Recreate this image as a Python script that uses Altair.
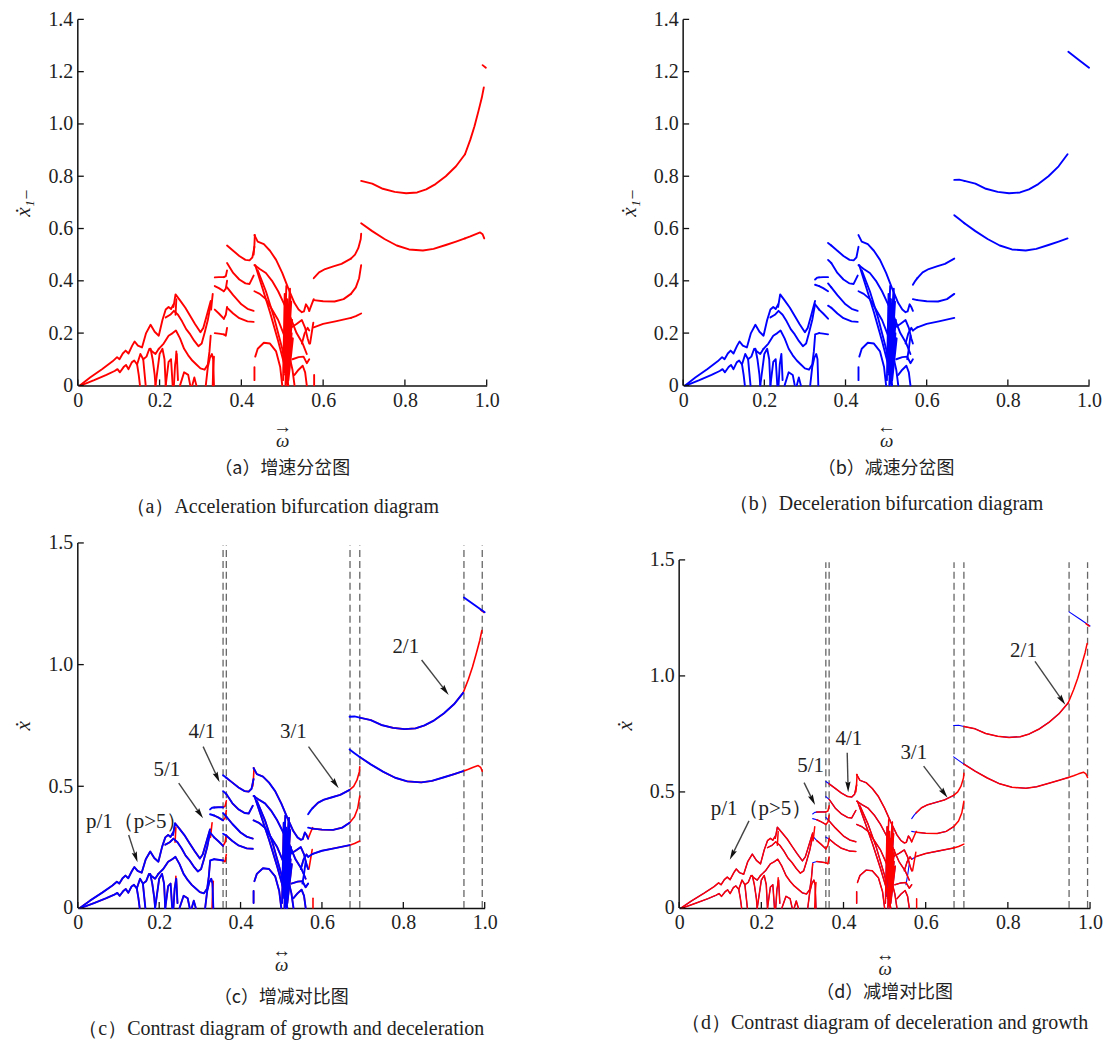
import math
import altair as alt
import pandas as pd

SERIF = "Liberation Serif, Times New Roman, DejaVu Serif, serif"
CJK = "Noto Sans CJK SC"
RED = "#ff0000"
BLUE = "#0000ff"

# ---------------- branches common to both sweeps (omega, xdot) ----------------
env1_w = [0.005, 0.03, 0.06, 0.085, 0.096, 0.102, 0.11, 0.117, 0.124, 0.133, 0.139, 0.147, 0.157, 0.167, 0.178, 0.188, 0.198, 0.207, 0.215, 0.222, 0.228, 0.234]
env1_x = [0.0, 0.03, 0.063, 0.092, 0.108, 0.1, 0.122, 0.133, 0.122, 0.152, 0.168, 0.152, 0.145, 0.2, 0.232, 0.205, 0.19, 0.25, 0.29, 0.3, 0.292, 0.31]
env2_w = [0.234, 0.239, 0.25, 0.263, 0.275, 0.287, 0.3, 0.307, 0.314, 0.325]
env2_x = [0.3, 0.348, 0.325, 0.297, 0.265, 0.234, 0.203, 0.22, 0.26, 0.323]
mid3_w = [0.215, 0.226, 0.235, 0.245, 0.255, 0.265, 0.275, 0.285, 0.295, 0.303, 0.31, 0.318, 0.325]
mid3_x = [0.26, 0.27, 0.285, 0.27, 0.245, 0.215, 0.195, 0.17, 0.15, 0.16, 0.2, 0.25, 0.31]
low4_w = [0.198, 0.21, 0.222, 0.232, 0.24, 0.25, 0.26, 0.27, 0.28, 0.29, 0.3, 0.31, 0.318, 0.322, 0.325]
low4_x = [0.14, 0.16, 0.19, 0.2, 0.21, 0.18, 0.14, 0.115, 0.095, 0.08, 0.065, 0.06, 0.08, 0.13, 0.19]
saw5_w = [0.008, 0.04, 0.07, 0.09, 0.097, 0.103, 0.112, 0.118, 0.124, 0.132, 0.138, 0.145, 0.153, 0.16, 0.168, 0.175, 0.182, 0.19, 0.198]
saw5_x = [0.0, 0.02, 0.04, 0.055, 0.062, 0.05, 0.07, 0.078, 0.062, 0.088, 0.095, 0.08, 0.12, 0.1, 0.11, 0.14, 0.13, 0.12, 0.14]
arc1_w = [0.145, 0.149, 0.152]; arc1_x = [0.08, 0.04, 0.0]
arc2_w = [0.16, 0.163, 0.166]; arc2_x = [0.1, 0.05, 0.0]
arc3_w = [0.178, 0.183, 0.188, 0.19]; arc3_x = [0.14, 0.1, 0.04, 0.0]
arc4_w = [0.19, 0.2, 0.207, 0.212, 0.215]; arc4_x = [0.0, 0.12, 0.14, 0.1, 0.0]
arc5_w = [0.215, 0.222, 0.228, 0.232]; arc5_x = [0.0, 0.09, 0.1, 0.0]
arc6_w = [0.235, 0.238, 0.242, 0.245]; arc6_x = [0.0, 0.08, 0.12, 0.02]
arc7_w = [0.25, 0.26, 0.27, 0.275]; arc7_x = [0.0, 0.05, 0.04, 0.0]
arc8_w = [0.28, 0.285, 0.29]; arc8_x = [0.0, 0.03, 0.0]
arc9_w = [0.313, 0.318, 0.323, 0.328, 0.331, 0.333]; arc9_x = [0.0, 0.07, 0.105, 0.12, 0.1, 0.0]

# 5/1 window
f1_w = [0.335, 0.345, 0.357]; f1_x = [0.413, 0.414, 0.414]
f2_w = [0.335, 0.345, 0.357]; f2_x = [0.38, 0.372, 0.36]
f3_w = [0.335, 0.345, 0.357]; f3_x = [0.29, 0.275, 0.255]
f4_w = [0.335, 0.345, 0.357]; f4_x = [0.2, 0.198, 0.195]
# 4/1 window
t1_w = [0.365, 0.38, 0.395, 0.41, 0.42, 0.427, 0.432]; t1_x = [0.535, 0.515, 0.495, 0.48, 0.478, 0.49, 0.53]
t2_w = [0.365, 0.38, 0.395, 0.41, 0.42, 0.43]; t2_x = [0.468, 0.43, 0.405, 0.39, 0.388, 0.42]
t3_w = [0.365, 0.38, 0.4, 0.415, 0.43]; t3_x = [0.375, 0.345, 0.31, 0.293, 0.285]
t4_w = [0.365, 0.38, 0.395, 0.415, 0.43]; t4_x = [0.297, 0.275, 0.257, 0.245, 0.243]
# multi-periodic / chaotic zone
c1_w = [0.432, 0.44, 0.455, 0.47, 0.485, 0.5, 0.515, 0.53, 0.54, 0.548, 0.553, 0.558, 0.562, 0.566]
c1_x = [0.575, 0.55, 0.54, 0.515, 0.48, 0.43, 0.37, 0.315, 0.29, 0.28, 0.283, 0.31, 0.3, 0.285]
c2_w = [0.432, 0.445, 0.46, 0.475, 0.49, 0.505, 0.52, 0.535, 0.55, 0.56]
c2_x = [0.46, 0.445, 0.43, 0.4, 0.36, 0.31, 0.26, 0.2, 0.16, 0.12]
c3_w = [0.432, 0.445, 0.46, 0.475, 0.49, 0.505, 0.515, 0.525, 0.53]
c3_x = [0.36, 0.35, 0.33, 0.29, 0.25, 0.19, 0.13, 0.06, 0.0]
c4_w = [0.434, 0.45, 0.47, 0.49, 0.505, 0.515]; c4_x = [0.46, 0.38, 0.28, 0.17, 0.08, 0.0]
c5_w = [0.44, 0.46, 0.48, 0.5, 0.51]; c5_x = [0.44, 0.36, 0.26, 0.14, 0.05]
c6_w = [0.434, 0.44, 0.455, 0.47, 0.485, 0.495, 0.5]; c6_x = [0.11, 0.14, 0.163, 0.16, 0.13, 0.07, 0.0]
c7_w = [0.432, 0.432]; c7_x = [0.02, 0.07]
c8_w = [0.52, 0.535, 0.548, 0.556, 0.562, 0.566]; c8_x = [0.22, 0.235, 0.25, 0.22, 0.18, 0.16]
c9_w = [0.525, 0.54, 0.552, 0.56, 0.566]; c9_x = [0.1, 0.108, 0.11, 0.085, 0.1]
c10_w = [0.53, 0.54, 0.55, 0.556, 0.56]; c10_x = [0.04, 0.06, 0.075, 0.05, 0.0]
c11_w = [0.548, 0.555, 0.562, 0.566]; c11_x = [0.16, 0.2, 0.22, 0.21]
chaos_w = [0.502, 0.506, 0.503, 0.51, 0.505, 0.512, 0.508, 0.515, 0.509, 0.518, 0.511, 0.52, 0.513, 0.522, 0.51,
           0.524, 0.514, 0.519, 0.507, 0.521, 0.512, 0.526, 0.515, 0.52, 0.509, 0.517, 0.513, 0.523, 0.511, 0.516]
chaos_x = [0.02, 0.35, 0.05, 0.38, 0.1, 0.33, 0.0, 0.3, 0.08, 0.36, 0.03, 0.28, 0.12, 0.32, 0.01,
           0.25, 0.15, 0.37, 0.04, 0.22, 0.09, 0.18, 0.02, 0.34, 0.06, 0.29, 0.0, 0.2, 0.11, 0.26]
# 3/1 window
p3a_w = [0.577, 0.59, 0.605, 0.625, 0.645, 0.668]; p3a_x = [0.41, 0.432, 0.445, 0.455, 0.465, 0.485]
p3b_w = [0.577, 0.6, 0.628, 0.65, 0.668]; p3b_x = [0.326, 0.322, 0.321, 0.33, 0.35]
p3c_w = [0.577, 0.6, 0.63, 0.668]; p3c_x = [0.222, 0.235, 0.245, 0.258]
# 2/1 window
p2u_w = [0.693, 0.72, 0.746, 0.775, 0.803, 0.83, 0.852, 0.875, 0.9, 0.925, 0.947]
p2u_x = [0.782, 0.772, 0.752, 0.74, 0.735, 0.738, 0.75, 0.77, 0.8, 0.838, 0.884]
p2l_w = [0.693, 0.72, 0.75, 0.78, 0.81, 0.844, 0.87, 0.9, 0.925, 0.947]
p2l_x = [0.62, 0.59, 0.56, 0.535, 0.52, 0.516, 0.522, 0.537, 0.55, 0.562]

# ---------------- acceleration-only pieces ----------------
a_p2u_w = [0.947, 0.96, 0.97, 0.98, 0.988, 0.993]; a_p2u_x = [0.884, 0.94, 0.99, 1.05, 1.1, 1.14]
a_p2l_w = [0.947, 0.96, 0.972, 0.984, 0.99, 0.994]; a_p2l_x = [0.562, 0.57, 0.578, 0.585, 0.578, 0.562]
a_top_w = [0.99, 0.998]; a_top_x = [1.225, 1.215]
a_p3a_w = [0.668, 0.678, 0.686, 0.692, 0.693]; a_p3a_x = [0.485, 0.5, 0.525, 0.56, 0.58]
a_p3b_w = [0.668, 0.68, 0.688, 0.693]; a_p3b_x = [0.35, 0.375, 0.41, 0.46]
a_p3c_w = [0.668, 0.68, 0.693]; a_p3c_x = [0.258, 0.265, 0.275]
a_f1_w = [0.357, 0.362, 0.365]; a_f1_x = [0.414, 0.418, 0.44]
a_f2_w = [0.357, 0.362, 0.365]; a_f2_x = [0.36, 0.37, 0.4]
a_f3_w = [0.357, 0.362, 0.365]; a_f3_x = [0.255, 0.27, 0.3]
a_f4_w = [0.357, 0.362, 0.365]; a_f4_x = [0.195, 0.19, 0.22]
a_j1_w = [0.239, 0.24, 0.241]; a_j1_x = [0.27, 0.3, 0.33]
a_j2_w = [0.24, 0.241]; a_j2_x = [0.09, 0.13]
a_j3_w = [0.326, 0.328, 0.33]; a_j3_x = [0.29, 0.32, 0.35]
a_j4_w = [0.33, 0.331, 0.333]; a_j4_x = [0.0, 0.06, 0.11]
a_j5_w = [0.43, 0.432, 0.433]; a_j5_x = [0.5, 0.54, 0.575]
a_e1_w = [0.566, 0.572, 0.577]; a_e1_x = [0.285, 0.31, 0.33]
a_e2_w = [0.568, 0.572, 0.576]; a_e2_x = [0.16, 0.2, 0.24]
a_e3_w = [0.578, 0.578]; a_e3_x = [0.0, 0.04]

# ---------------- deceleration-only pieces ----------------
b_top_w = [0.949, 0.975, 1.0]; b_top_x = [1.276, 1.245, 1.215]
b_p2u_w = [0.668, 0.68, 0.693]; b_p2u_x = [0.786, 0.787, 0.782]
b_p2l_w = [0.668, 0.68, 0.693]; b_p2l_x = [0.651, 0.636, 0.62]
b_p3a_w = [0.566, 0.572, 0.577]; b_p3a_x = [0.385, 0.4, 0.41]
b_p3b_w = [0.566, 0.577]; b_p3b_x = [0.33, 0.326]
b_p3c_w = [0.566, 0.577]; b_p3c_x = [0.21, 0.222]
b_t1_w = [0.357, 0.365]; b_t1_x = [0.545, 0.535]
b_t2_w = [0.357, 0.365]; b_t2_x = [0.48, 0.468]
b_t3_w = [0.357, 0.365]; b_t3_x = [0.39, 0.375]
b_t4_w = [0.357, 0.365]; b_t4_x = [0.305, 0.297]
b_f1_w = [0.325, 0.33, 0.335]; b_f1_x = [0.405, 0.412, 0.413]
b_f2_w = [0.325, 0.335]; b_f2_x = [0.385, 0.38]
b_f3_w = [0.325, 0.33, 0.335]; b_f3_x = [0.31, 0.3, 0.29]
b_f4_w = [0.325, 0.335]; b_f4_x = [0.195, 0.2]
b_e1_w = [0.552, 0.556, 0.56]; b_e1_x = [0.1, 0.14, 0.19]
b_ch_w = [0.505, 0.51, 0.507, 0.515, 0.512]; b_ch_x = [0.05, 0.2, 0.3, 0.1, 0.25]

common = {
    "env1": (env1_w, env1_x), "env2": (env2_w, env2_x), "mid3": (mid3_w, mid3_x), "low4": (low4_w, low4_x),
    "saw5": (saw5_w, saw5_x), "arc1": (arc1_w, arc1_x), "arc2": (arc2_w, arc2_x), "arc3": (arc3_w, arc3_x),
    "arc4": (arc4_w, arc4_x), "arc5": (arc5_w, arc5_x), "arc6": (arc6_w, arc6_x), "arc7": (arc7_w, arc7_x),
    "arc8": (arc8_w, arc8_x), "arc9": (arc9_w, arc9_x),
    "f1": (f1_w, f1_x), "f2": (f2_w, f2_x), "f3": (f3_w, f3_x), "f4": (f4_w, f4_x),
    "t1": (t1_w, t1_x), "t2": (t2_w, t2_x), "t3": (t3_w, t3_x), "t4": (t4_w, t4_x),
    "c1": (c1_w, c1_x), "c2": (c2_w, c2_x), "c3": (c3_w, c3_x), "c4": (c4_w, c4_x), "c5": (c5_w, c5_x),
    "c6": (c6_w, c6_x), "c7": (c7_w, c7_x), "c8": (c8_w, c8_x), "c9": (c9_w, c9_x), "c10": (c10_w, c10_x),
    "c11": (c11_w, c11_x), "chaos": (chaos_w, chaos_x),
    "p3a": (p3a_w, p3a_x), "p3b": (p3b_w, p3b_x), "p3c": (p3c_w, p3c_x),
    "p2u": (p2u_w, p2u_x), "p2l": (p2l_w, p2l_x),
}
accel_only = {
    "a_p2u": (a_p2u_w, a_p2u_x), "a_p2l": (a_p2l_w, a_p2l_x), "a_top": (a_top_w, a_top_x),
    "a_p3a": (a_p3a_w, a_p3a_x), "a_p3b": (a_p3b_w, a_p3b_x), "a_p3c": (a_p3c_w, a_p3c_x),
    "a_f1": (a_f1_w, a_f1_x), "a_f2": (a_f2_w, a_f2_x), "a_f3": (a_f3_w, a_f3_x), "a_f4": (a_f4_w, a_f4_x),
    "a_j1": (a_j1_w, a_j1_x), "a_j2": (a_j2_w, a_j2_x), "a_j3": (a_j3_w, a_j3_x), "a_j4": (a_j4_w, a_j4_x),
    "a_j5": (a_j5_w, a_j5_x), "a_e1": (a_e1_w, a_e1_x), "a_e2": (a_e2_w, a_e2_x), "a_e3": (a_e3_w, a_e3_x),
}
decel_only = {
    "b_top": (b_top_w, b_top_x), "b_p2u": (b_p2u_w, b_p2u_x), "b_p2l": (b_p2l_w, b_p2l_x),
    "b_p3a": (b_p3a_w, b_p3a_x), "b_p3b": (b_p3b_w, b_p3b_x), "b_p3c": (b_p3c_w, b_p3c_x),
    "b_t1": (b_t1_w, b_t1_x), "b_t2": (b_t2_w, b_t2_x), "b_t3": (b_t3_w, b_t3_x), "b_t4": (b_t4_w, b_t4_x),
    "b_f1": (b_f1_w, b_f1_x), "b_f2": (b_f2_w, b_f2_x), "b_f3": (b_f3_w, b_f3_x), "b_f4": (b_f4_w, b_f4_x),
    "b_e1": (b_e1_w, b_e1_x), "b_ch": (b_ch_w, b_ch_x),
}

# jump boundaries (dashed) and annotations
dash_w = [0.357, 0.365, 0.669, 0.693, 0.949, 0.994]
x_ticks = [0, 0.2, 0.4, 0.6, 0.8, 1.0]
y_ticks_ab = [0, 0.2, 0.4, 0.6, 0.8, 1.0, 1.2, 1.4]
y_ticks_cd = [0, 0.5, 1.0, 1.5]

notes_c_label = ["5/1", "4/1", "3/1", "2/1"]
notes_c_w = [0.219, 0.305, 0.53, 0.806]
notes_c_x = [0.567, 0.725, 0.725, 1.073]
arrows_c = [(0.125, 0.30, 0.142, 0.212), (0.248, 0.513, 0.299, 0.39), (0.308, 0.663, 0.342, 0.54),
            (0.567, 0.663, 0.632, 0.513), (0.845, 1.019, 0.902, 0.896)]
pnote_c = (0.02, 0.355)

notes_d_label = ["5/1", "4/1", "3/1", "2/1"]
notes_d_w = [0.32, 0.413, 0.571, 0.838]
notes_d_x = [0.611, 0.726, 0.669, 1.106]
arrows_d = [(0.17, 0.375, 0.13, 0.232), (0.304, 0.54, 0.324, 0.468), (0.409, 0.669, 0.411, 0.526),
            (0.595, 0.611, 0.644, 0.497), (0.866, 1.063, 0.931, 0.898)]
pnote_d = (0.077, 0.425)


def frame(branches):
    rows = []
    for name, (ws, xs) in branches.items():
        for i, (w, x) in enumerate(zip(ws, xs)):
            rows.append({"b": name, "i": i, "w": w, "x": x})
    return pd.DataFrame(rows)


accel_df = frame({**common, **accel_only})
decel_df = frame({**common, **decel_only})

LABEL_EXPR = "datum.value == 0 ? '0' : format(datum.value, '.1f')"


def panel(line_layers, W, H, ymax, ytop, yticks, ytitle, xtitle, cap_cn, cap_en,
          dashed=False, labels=None, arrows=None, pnote=None, cap_pad=18, xpad=6, offset=10):
    xs = alt.Scale(domain=[0, 1], nice=False, zero=False)
    ys = alt.Scale(domain=[0, ymax], nice=False, zero=False)
    xaxis = alt.Axis(values=x_ticks, labelExpr=LABEL_EXPR, ticks=False, grid=False, domain=True,
                     domainColor="#111", domainWidth=1.5, labelFont=SERIF, labelFontSize=20,
                     labelColor="#222", labelPadding=5, labelFlush=False, title=xtitle, titleFont=SERIF,
                     titleFontSize=19, titleFontStyle="italic", titleFontWeight="normal",
                     titleColor="#222", titleLineHeight=14, titlePadding=xpad)
    yaxis = alt.Axis(values=yticks, labelExpr=LABEL_EXPR, ticks=False, grid=False, domain=False,
                     labelFont=SERIF, labelFontSize=20, labelColor="#222", labelPadding=5,
                     labelFlush=False, title=ytitle, titleFont=SERIF, titleFontSize=21,
                     titleFontStyle="italic", titleFontWeight="normal", titleColor="#222",
                     titlePadding=14)
    X = alt.X("w:Q", scale=xs, axis=xaxis)
    Y = alt.Y("x:Q", scale=ys, axis=yaxis)
    layers = []
    if dashed:
        ddf = pd.DataFrame({"w": dash_w, "x": [0.0] * len(dash_w), "x2": [1.49] * len(dash_w)})
        layers.append(alt.Chart(ddf).mark_rule(color="#666", strokeWidth=1.3, strokeDash=[7, 4])
                      .encode(x=X, y=Y, y2="x2:Q"))
    for df, color, sw in line_layers:
        layers.append(alt.Chart(df).mark_line(color=color, strokeWidth=sw, strokeCap="round",
                                              strokeJoin="round")
                      .encode(x=X, y=Y, detail="b:N", order="i:Q"))
    # y axis line
    adf = pd.DataFrame({"w": [0.0], "x": [0.0], "x2": [ytop]})
    layers.append(alt.Chart(adf).mark_rule(color="#111", strokeWidth=1.5).encode(x=X, y=Y, y2="x2:Q"))
    # inner ticks
    ytdf = pd.DataFrame({"x": yticks})
    layers.append(alt.Chart(ytdf).mark_rule(color="#111", strokeWidth=1.3)
                  .encode(y=Y, x=alt.value(0), x2=alt.value(6)))
    xtdf = pd.DataFrame({"w": x_ticks})
    layers.append(alt.Chart(xtdf).mark_rule(color="#111", strokeWidth=1.3)
                  .encode(x=X, y=alt.value(H), y2=alt.value(H - 6)))
    if labels is not None:
        ldf = pd.DataFrame({"w": labels[1], "x": labels[2], "t": labels[0]})
        layers.append(alt.Chart(ldf).mark_text(font=SERIF, fontSize=21, color="#222")
                      .encode(x=X, y=Y, text="t:N"))
    if pnote is not None:
        pdf = pd.DataFrame({"w": [pnote[0]], "x": [pnote[1]], "t": ["p/1（p>5）"]})
        layers.append(alt.Chart(pdf).mark_text(font=SERIF, fontSize=21, color="#222", align="left")
                      .encode(x=X, y=Y, text="t:N"))
    if arrows is not None:
        rows = []
        for (w1, x1, w2, x2) in arrows:
            dx = (w2 - w1) * W
            dy = -(x2 - x1) * H / ymax
            ang = math.degrees(math.atan2(dx, -dy)) % 360
            rows.append({"w": w1, "x": x1, "w2": w2, "x2": x2, "ang": ang})
        arr = pd.DataFrame(rows)
        layers.append(alt.Chart(arr).mark_rule(color="#444", strokeWidth=1.4)
                      .encode(x=X, y=Y, x2="w2:Q", y2="x2:Q"))
        hd = arr[["w2", "x2", "ang"]].rename(columns={"w2": "w", "x2": "x"})
        layers.append(alt.Chart(hd).mark_point(shape="M0,-1L0.42,0.7L0,0.45L-0.42,0.7Z", filled=True,
                                               color="#111", size=160, opacity=1)
                      .encode(x=X, y=Y, angle=alt.Angle("ang:Q", scale=None)))
    return alt.layer(*layers).properties(
        width=W, height=H,
        title=alt.TitleParams(text=cap_cn, subtitle=cap_en, orient="bottom", anchor="middle",
                              font=CJK, fontSize=18, fontWeight="normal", color="#222",
                              subtitleFont=SERIF, subtitleFontSize=20, subtitleColor="#222",
                              subtitlePadding=cap_pad, offset=offset))


pa = panel([(accel_df, RED, 1.9)], 410, 367, 1.4, 1.4, y_ticks_ab, "ẋ₁₋", ["→", "ω"],
           "（a）增速分岔图", "（a）Acceleration bifurcation diagram", cap_pad=19, xpad=7, offset=10)
pb = panel([(decel_df, BLUE, 1.9)], 407, 367, 1.4, 1.4, y_ticks_ab, "ẋ₁₋", ["←", "ω"],
           "（b）减速分岔图", "（b）Deceleration bifurcation diagram", cap_pad=16, xpad=7, offset=10)
pc = panel([(accel_df, RED, 1.6), (decel_df, BLUE, 1.9)], 408, 366, 1.5, 1.5, y_ticks_cd, "ẋ", ["↔", "ω"],
           "（c）增减对比图", "（c）Contrast diagram of growth and deceleration", dashed=True,
           labels=(notes_c_label, notes_c_w, notes_c_x), arrows=arrows_c, pnote=pnote_c,
           cap_pad=12, xpad=9, offset=14)
pd_ = panel([(decel_df, BLUE, 1.1), (accel_df, RED, 1.5)], 412, 366, 1.573, 1.5, y_ticks_cd, "ẋ", ["↔", "ω"],
            "（d）减增对比图", "（d）Contrast diagram of deceleration and growth", dashed=True,
            labels=(notes_d_label, notes_d_w, notes_d_x), arrows=arrows_d, pnote=pnote_d,
            cap_pad=11, xpad=13, offset=5)

chart = alt.vconcat(
    alt.hconcat(pa, pb, spacing=119),
    alt.hconcat(pc, pd_, spacing=117),
    spacing=16,
).configure_view(stroke=None).properties(
    background="white", padding={"left": 5, "top": 0, "right": 0, "bottom": 0})

chart.save("out.html", embed_options={"renderer": "svg", "actions": False})
